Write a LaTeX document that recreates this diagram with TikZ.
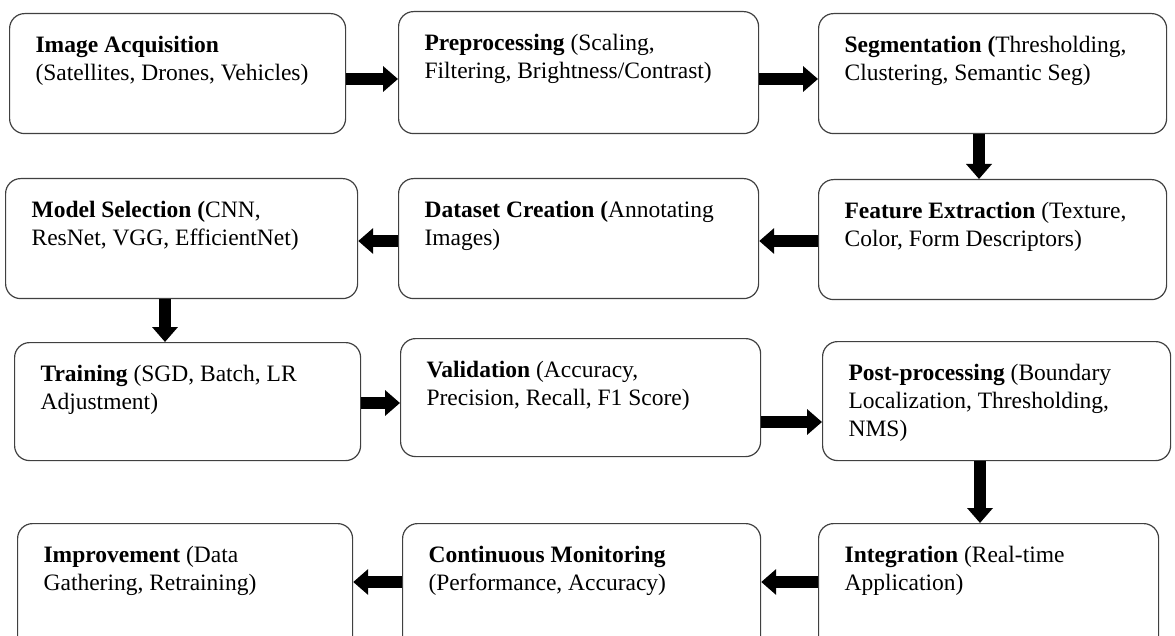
\documentclass[tikz,border=0pt]{standalone}
\usepackage{fontspec}
\setmainfont{Liberation Serif}
\usetikzlibrary{arrows.meta,calc}
\tikzset{stage/.style={draw=black!75,line width=1.2pt,rounded corners=15pt,
           inner sep=0pt,anchor=north west,font=\fontsize{23.5}{28}\selectfont},
         flow/.style={-{Triangle[length=15pt,width=25pt]},line width=12pt}}
\newcommand{\steptext}[3]{\parbox[c][#2][t]{#1}{\leftskip=26pt\rule{0pt}{39pt}#3}}

\begin{document}
\begin{tikzpicture}[x=1pt,y=-1pt]
  \clip (0,0) rectangle (1175,636);
  \node[stage] (acq) at (9,13) {\steptext{336pt}{120pt}{\textbf{Image Acquisition}\\
    (Satellites, Drones, Vehicles)}};
  \node[stage] (pre) at (398,11) {\steptext{360pt}{122pt}{\textbf{Preprocessing} (Scaling,\\
    Filtering, Brightness/Contrast)}};
  \node[stage] (seg) at (818,13) {\steptext{348pt}{120pt}{\textbf{Segmentation (}Thresholding,\\
    Clustering, Semantic Seg)}};
  \node[stage] (feat) at (818,179) {\steptext{348pt}{120pt}{\textbf{Feature Extraction} (Texture,\\
    Color, Form Descriptors)}};
  \node[stage] (data) at (398,178) {\steptext{360pt}{120pt}{\textbf{Dataset Creation (}Annotating\\
    Images)}};
  \node[stage] (model) at (5,178) {\steptext{352pt}{120pt}{\textbf{Model Selection (}CNN,\\
    ResNet, VGG, EfficientNet)}};
  \node[stage] (train) at (14,342) {\steptext{346pt}{118pt}{\textbf{Training} (SGD, Batch, LR\\
    Adjustment)}};
  \node[stage] (val) at (400,338) {\steptext{360pt}{118pt}{\textbf{Validation} (Accuracy,\\
    Precision, Recall, F1 Score)}};
  \node[stage] (post) at (822,341) {\steptext{348pt}{119pt}{\textbf{Post-processing} (Boundary\\
    Localization, Thresholding,\\ NMS)}};
  \node[stage] (integ) at (818,523) {\steptext{340pt}{135pt}{\textbf{Integration} (Real-time\\
    Application)}};
  \node[stage] (mon) at (402,523) {\steptext{358pt}{135pt}{\textbf{Continuous Monitoring}\\
    (Performance, Accuracy)}};
  \node[stage] (impr) at (17,523) {\steptext{335pt}{135pt}{\textbf{Improvement} (Data\\
    Gathering, Retraining)}};
  % flow between stages
  \draw[flow] (acq.east |- 0,79) -- (pre.west |- 0,79);
  \draw[flow] (pre.east |- 0,79) -- (seg.west |- 0,79);
  \draw[flow] (seg.south -| 979,0) -- (feat.north -| 979,0);
  \draw[flow] (feat.west |- 0,241) -- (data.east |- 0,241);
  \draw[flow] (data.west |- 0,241) -- (model.east |- 0,241);
  \draw[flow] (model.south -| 165,0) -- (train.north -| 165,0);
  \draw[flow] (train.east |- 0,403) -- (val.west |- 0,403);
  \draw[flow] (val.east |- 0,422) -- (post.west |- 0,422);
  \draw[flow] (post.south -| 980,0) -- (integ.north -| 980,0);
  \draw[flow] (integ.west |- 0,582) -- (mon.east |- 0,582);
  \draw[flow] (mon.west |- 0,582) -- (impr.east |- 0,582);
\end{tikzpicture}
\end{document}
